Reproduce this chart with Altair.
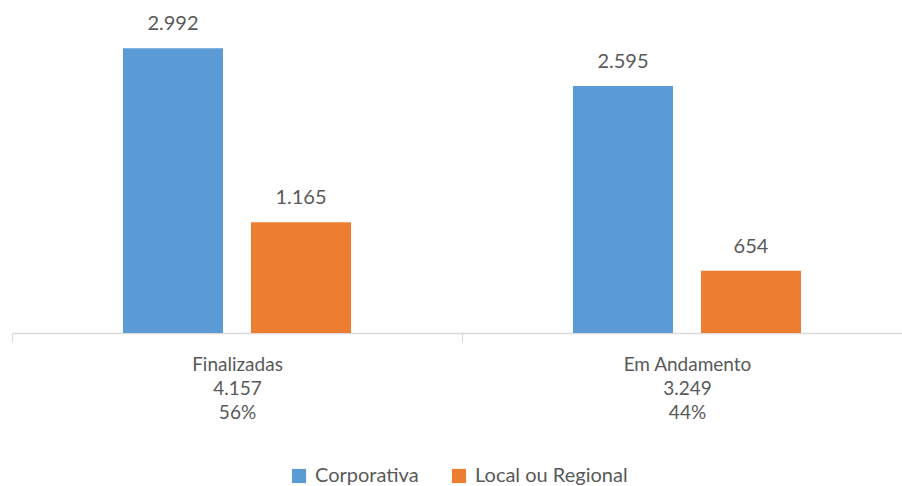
import altair as alt
import pandas as pd

categories = ["Finalizadas", "Em Andamento"]
cat_totals = ["4.157", "3.249"]
cat_pcts = ["56%", "44%"]
series = ["Corporativa", "Local ou Regional"]
corporativa = [2992, 2595]
local_regional = [1165, 654]
colors = ["#5B9BD5", "#ED7D31"]

rows = []
for i, c in enumerate(categories):
    axis_label = f"{c}|{cat_totals[i]}|{cat_pcts[i]}"
    for s, vals in zip(series, [corporativa, local_regional]):
        v = vals[i]
        rows.append({"cat": axis_label, "serie": s, "valor": v,
                     "rotulo": f"{v:,}".replace(",", ".")})
df = pd.DataFrame(rows)
order = [f"{c}|{cat_totals[i]}|{cat_pcts[i]}" for i, c in enumerate(categories)]

FONT = "Lato"
GREY = "#595959"

base = alt.Chart(df).encode(
    x=alt.X("cat:N", sort=order, title=None,
            scale=alt.Scale(paddingInner=0, paddingOuter=0, range=[0, 900]),
            axis=alt.Axis(labelExpr="split(datum.label, '|')", labelAngle=0,
                          labelFont=FONT, labelFontSize=19, labelColor=GREY,
                          labelLineHeight=24, labelPadding=13,
                          domainColor="#d9d9d9", tickColor="#d9d9d9",
                          tickSize=9, tickBand="extent", domainWidth=1.5)),
    xOffset=alt.XOffset("serie:N", sort=series,
                        scale=alt.Scale(paddingInner=0.21875, paddingOuter=0.867)),
    y=alt.Y("valor:Q", scale=alt.Scale(domain=[0, 3500]), axis=None),
)

bars = base.mark_bar().encode(
    color=alt.Color("serie:N", sort=series,
                    scale=alt.Scale(domain=series, range=colors),
                    legend=alt.Legend(title=None, orient="none", direction="horizontal",
                                      legendX=277, legendY=466,
                                      symbolType="square", symbolSize=200,
                                      symbolStrokeWidth=0,
                                      labelFont=FONT, labelFontSize=20,
                                      labelColor=GREY, columnPadding=30,
                                      labelOffset=6)),
)

labels = base.mark_text(baseline="alphabetic", dy=-18, font=FONT, fontSize=20,
                        color=GREY).encode(text="rotulo:N")

chart = (bars + labels).properties(
    width=890, height=333,
    padding={"left": 12, "top": 0, "right": 0, "bottom": 153},
    autosize=alt.AutoSizeParams(type="none"),
).configure_view(stroke=None)

chart.save("out.html", embed_options={"renderer": "svg", "actions": False})
